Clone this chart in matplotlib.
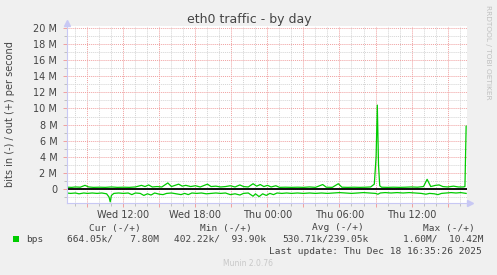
import matplotlib
matplotlib.use("Agg")
import matplotlib.pyplot as plt
from matplotlib.ticker import FixedLocator, MultipleLocator

# ---- datos (horas desde Wed 00:00, valores en M bits/s) ----
out_t = [7.3, 7.7, 8.0, 8.4, 8.8, 9.1, 9.5, 10.0, 10.5, 11.0, 11.5, 12.0, 12.5,
         13.0, 13.5, 13.8, 14.1, 14.4, 14.8, 15.2, 15.7, 16.0, 16.6, 16.9, 17.2,
         17.6, 18.0, 18.4, 19.0, 19.3, 19.7, 20.1, 20.5, 20.9, 21.3, 21.7, 22.0,
         22.4, 22.8, 23.1, 23.4, 23.7, 24.0, 24.3, 24.7, 25.0, 25.5, 26.0, 26.5,
         27.0, 27.5, 28.0, 28.6, 28.9, 29.4, 29.9, 30.2, 30.7, 31.2, 31.7, 32.2,
         32.6, 32.9, 33.05, 33.15, 33.25, 33.35, 33.5, 34.0, 34.5, 35.0, 35.5,
         36.0, 36.5, 37.0, 37.3, 37.6, 38.0, 38.3, 38.6, 39.0, 39.5, 39.9, 40.3,
         40.45, 40.55]
out_v = [0.22, 0.20, 0.25, 0.22, 0.45, 0.25, 0.20, 0.22, 0.20, 0.25, 0.20, 0.22, 0.20,
         0.25, 0.45, 0.30, 0.50, 0.25, 0.30, 0.25, 0.75, 0.30, 0.60, 0.35, 0.45,
         0.30, 0.40, 0.25, 0.60, 0.30, 0.35, 0.25, 0.30, 0.40, 0.25, 0.50, 0.30,
         0.25, 0.65, 0.35, 0.55, 0.30, 0.45, 0.25, 0.40, 0.20, 0.22, 0.20, 0.22,
         0.20, 0.25, 0.20, 0.55, 0.22, 0.20, 0.65, 0.22, 0.20, 0.22, 0.20, 0.22,
         0.25, 0.60, 4.00, 10.42, 3.00, 0.40, 0.22, 0.20, 0.22, 0.20, 0.22,
         0.25, 0.22, 0.30, 1.20, 0.30, 0.45, 0.50, 0.30, 0.25, 0.35, 0.25, 0.25,
         0.30, 7.80]

in_t = [7.3, 7.6, 8.0, 8.3, 8.7, 9.0, 9.4, 9.8, 10.2, 10.6, 10.8, 10.9, 11.0,
        11.2, 11.6, 12.0, 12.4, 12.7, 13.0, 13.4, 13.7, 14.0, 14.3, 14.6, 15.0,
        15.3, 15.6, 16.0, 16.4, 16.8, 17.1, 17.4, 17.7, 18.1, 18.5, 18.9, 19.3,
        19.7, 20.1, 20.5, 20.9, 21.3, 21.7, 22.0, 22.4, 22.8, 23.0, 23.3, 23.6,
        23.9, 24.2, 24.5, 24.8, 25.2, 25.6, 26.0, 26.5, 27.0, 27.5, 28.0, 28.5,
        29.0, 29.5, 30.0, 30.5, 31.0, 31.5, 32.0, 32.5, 33.0, 33.2, 33.4, 33.8,
        34.3, 34.8, 35.3, 35.8, 36.3, 36.8, 37.2, 37.5, 37.9, 38.2, 38.5, 38.9,
        39.3, 39.7, 40.1, 40.55]
in_v = [-0.50, -0.55, -0.50, -0.60, -0.50, -0.55, -0.50, -0.55, -0.50, -0.60, -1.00, -1.60, -0.80,
        -0.55, -0.50, -0.55, -0.50, -0.70, -0.50, -0.55, -0.80, -0.60, -0.75, -0.50, -0.65,
        -0.70, -0.55, -0.50, -0.60, -0.70, -0.55, -0.70, -0.50, -0.55, -0.50, -0.60, -0.55,
        -0.50, -0.55, -0.50, -0.70, -0.60, -0.75, -0.55, -0.50, -0.90, -0.60, -0.95, -0.60,
        -0.80, -0.55, -0.70, -0.50, -0.55, -0.50, -0.55, -0.50, -0.55, -0.50, -0.55, -0.50,
        -0.55, -0.50, -0.45, -0.50, -0.55, -0.50, -0.45, -0.50, -0.55, -0.65, -0.50, -0.45,
        -0.50, -0.45, -0.50, -0.45, -0.50, -0.55, -0.65, -0.55, -0.60, -0.70, -0.55, -0.50,
        -0.45, -0.50, -0.45, -0.55]

y_ticks = [0, 2, 4, 6, 8, 10, 12, 14, 16, 18, 20]
y_labels = ["0", "2 M", "4 M", "6 M", "8 M", "10 M", "12 M", "14 M", "16 M", "18 M", "20 M"]
x_ticks = [12, 18, 24, 30, 36]
x_labels = ["Wed 12:00", "Wed 18:00", "Thu 00:00", "Thu 06:00", "Thu 12:00"]

legend_name = "bps"
col_heads = ["Cur (-/+)", "Min (-/+)", "Avg (-/+)", "Max (-/+)"]
col_vals = ["664.05k/   7.80M", "402.22k/  93.90k", "530.71k/239.05k", "1.60M/  10.42M"]
last_update = "Last update: Thu Dec 18 16:35:26 2025"

# ---- figura ----
W, H = 497, 275
fig = plt.figure(figsize=(W / 100, H / 100), dpi=100, facecolor="#f0f0f0")

def px(x, y):
    return x / W, 1 - y / H

ax_l, ax_r, ax_t, ax_b = 67, 466.5, 26, 203.3
ax = fig.add_axes([ax_l / W, 1 - ax_b / H, (ax_r - ax_l) / W, (ax_b - ax_t) / H])
ax.set_facecolor("white")

green = "#00cc00"
axis_col = "#c8c8f4"
txt = "#444444"

x0, x1 = 7.3, 40.58
y0, y1 = -1.78, 20.25

# grid
ax.yaxis.set_major_locator(FixedLocator(y_ticks))
ax.yaxis.set_minor_locator(MultipleLocator(1))
ax.set_yticklabels(y_labels)

major_x = list(range(9, 41, 3))
ax.xaxis.set_major_locator(FixedLocator(major_x))
ax.xaxis.set_minor_locator(MultipleLocator(1))
ax.set_xticklabels([x_labels[x_ticks.index(t)] if t in x_ticks else "" for t in major_x])

ax.grid(which="minor", color="#d4d4d4", linestyle=(0, (1, 1)), linewidth=0.7)
ax.grid(which="major", color="#f0a0a0", linestyle=(0, (1, 1)), linewidth=0.7)
ax.set_axisbelow(True)

ax.tick_params(axis="both", which="major", labelsize=7, labelcolor=txt, color="#f0a0a0", length=3, width=0.7)
ax.tick_params(axis="both", which="minor", color="#c0c0c0", length=2, width=0.7)
ax.tick_params(axis="y", pad=4)
ax.tick_params(axis="x", pad=2)

for s in ["top", "right"]:
    ax.spines[s].set_visible(False)
for s in ["left", "bottom"]:
    ax.spines[s].set_color(axis_col)
    ax.spines[s].set_linewidth(0.8)

# series
ax.plot(in_t, in_v, color=green, linewidth=0.9)
ax.plot(out_t, out_v, color=green, linewidth=0.9)
ax.axhline(0, color="black", linewidth=1.3)

# flechas de los ejes
ax.plot([x0], [y1 + 0.35], marker="^", color=axis_col, markersize=5, clip_on=False)
ax.plot([x1 + 0.3], [y0], marker=">", color=axis_col, markersize=5, clip_on=False)

ax.set_xlim(x0, x1)
ax.set_ylim(y0, y1)

# textos
fig.text(*px(249, 20), "eth0 traffic - by day", ha="center", va="center", fontsize=9, color=txt)
fig.text(*px(10, 114.5), "bits in (-) / out (+) per second", ha="center", va="center",
         rotation=90, fontsize=7, color=txt)
fig.text(*px(488, 5), "RRDTOOL / TOBI OETIKER", ha="center", va="top", rotation=270,
         fontsize=5.3, color="#c0c0c0")

mono = "DejaVu Sans Mono"
fig.patches.append(plt.Rectangle(px(13, 242), 6 / W, 6 / H, transform=fig.transFigure,
                                 facecolor=green, edgecolor="none"))
fig.text(*px(26.5, 239.5), legend_name, ha="left", va="center", fontsize=6.8, family=mono, color=txt)

head_x = [89.3, 200, 311.7, 422.7]
val_x = [66.7, 174.3, 282.7, 403.3]
for h, hx in zip(col_heads, head_x):
    fig.text(*px(hx, 228), h, ha="left", va="center", fontsize=6.8, family=mono, color=txt)
for v, vx in zip(col_vals, val_x):
    fig.text(*px(vx, 239.5), v, ha="left", va="center", fontsize=6.8, family=mono, color=txt)
fig.text(*px(482, 251), last_update, ha="right", va="center", fontsize=6.8, family=mono, color=txt)
fig.text(*px(248, 264), "Munin 2.0.76", ha="center", va="center", fontsize=5.5, color="#c8c8c8")

fig.savefig("out.png", dpi=100, facecolor=fig.get_facecolor())
